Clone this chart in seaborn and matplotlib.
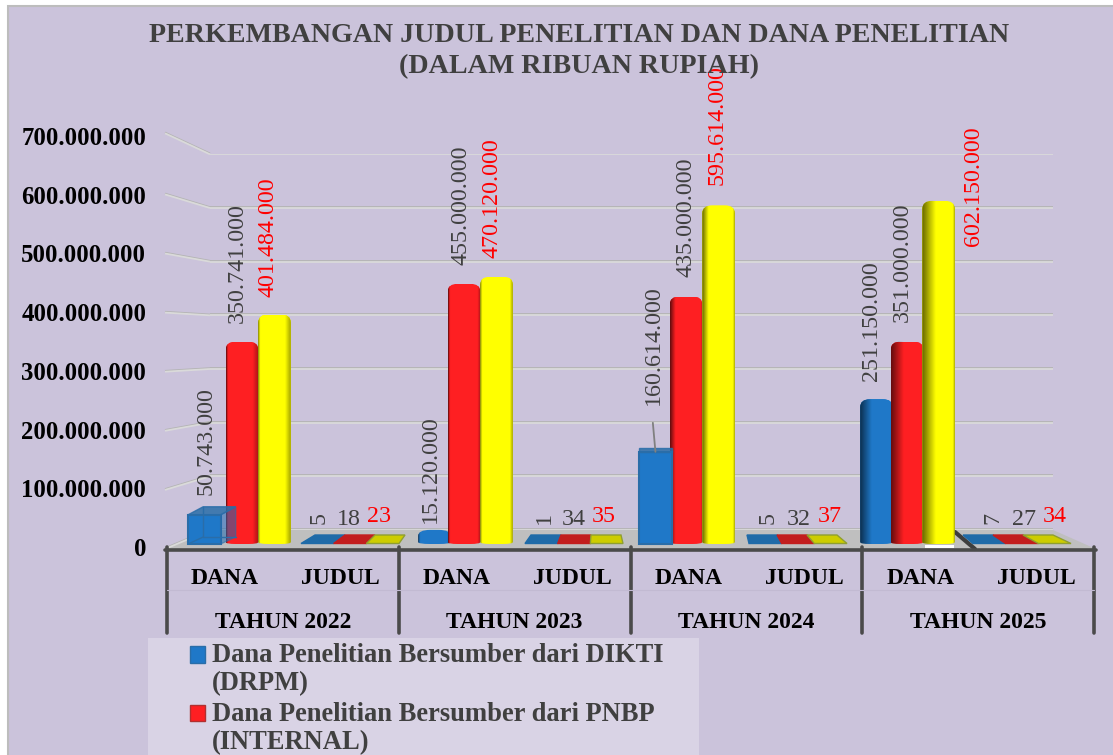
import numpy as np
import pandas as pd
import matplotlib
matplotlib.use("Agg")
import matplotlib.pyplot as plt
import matplotlib.patheffects as pe
from matplotlib.patches import Rectangle, Polygon, Patch
from matplotlib.legend_handler import HandlerPatch
from matplotlib.path import Path
import seaborn as sns

# ---- data ----
years = ["TAHUN 2022", "TAHUN 2023", "TAHUN 2024", "TAHUN 2025"]
kinds = ["DANA", "JUDUL"]
series = ["Dana Penelitian Bersumber dari DIKTI\n(DRPM)",
          "Dana Penelitian Bersumber dari PNBP\n(INTERNAL)",
          "Dana Penelitian Lainnya"]
drpm = [50743000, 5, 15120000, 1, 160614000, 5, 251150000, 7]
pnbp = [350741000, 18, 455000000, 34, 435000000, 32, 351000000, 27]
lain = [401484000, 23, 470120000, 35, 595614000, 37, 602150000, 34]
y_ticks = [0, 100000000, 200000000, 300000000, 400000000, 500000000, 600000000, 700000000]
title = "PERKEMBANGAN JUDUL PENELITIAN DAN DANA PENELITIAN\n(DALAM RIBUAN RUPIAH)"

colors = ["#1F78C8", "#FE1F22", "#FFFF00"]
GREY = "#404040"
SERIF = "Liberation Serif"

W, H = 1113, 755
sns.set_style("white")
plt.rcParams["font.family"] = [SERIF, "DejaVu Serif"]
fig = plt.figure(figsize=(W / 100, H / 100), dpi=100, facecolor="white")


def rect(l, t, r, b):
    return [l / W, 1 - b / H, (r - l) / W, (b - t) / H]


wall_line = [pe.SimpleLineShadow(offset=(0, .6), shadow_color="#B4B4B4", alpha=1), pe.Normal()]

# pixel-space backdrop (plot area, floor, perspective lines, table rules)
ov = fig.add_axes([0, 0, 1, 1], zorder=0)
ov.set_xlim(0, W); ov.set_ylim(H, 0); ov.axis("off")
ov.add_patch(Rectangle((7.5, 6), W, H, fc="#CBC3DB", ec="#BDBDBD", lw=1.5))
ov.add_patch(Polygon([(166, 549), (210, 530), (1053, 530), (1096, 549)], fc="#BFBFBF", ec="none"))
for k in range(8):
    ov.plot([165, 210], [549 - 59.1 * k - (2 if k == 7 else 0), 530 - 53.67 * k],
            color="#DADADA", lw=1.3, solid_capstyle="butt", path_effects=wall_line)
ov.add_patch(Rectangle((148, 638), 551, 120, fc="#D9D3E5", ec="none"))
ov.plot([955, 975], [532, 549], color="#303030", lw=3, alpha=.9)
ov.add_patch(Rectangle((925, 545), 29, 2.5, fc="white", ec="none"))

# main axes: back wall of the 3D box
ax = fig.add_axes(rect(210, 154.3, 1053, 530), zorder=2)
ax.patch.set_alpha(0)
df = pd.DataFrame({
    "kategori": [f"{y} {k}" for y in years for k in kinds] * 3,
    "nilai": drpm + pnbp + lain,
    "sumber": np.repeat(series, 8),
})
sns.barplot(data=df, x="kategori", y="nilai", hue="sumber", hue_order=series,
            palette=colors, width=0.88, gap=0, saturation=1, legend=False,
            err_kws={"linewidth": 0}, ax=ax)
PX_X = 111.0
ax.set_xlim((210 - 242) / PX_X, (1053 - 242) / PX_X)
ax.set_ylim(0, 700000000)
PX_Y = 375.7 / 700000000
ax.set_yticks(y_ticks)
ax.set_xticks([])
ax.tick_params(left=False, labelleft=False, bottom=False)
ax.set_xlabel(""); ax.set_ylabel("")
ax.grid(axis="y", color="#DADADA", lw=1.3)
for line in ax.yaxis.get_gridlines():
    line.set_path_effects(wall_line)
ax.set_axisbelow(True)
for s in ax.spines.values():
    s.set_visible(False)

BASE = -14 / PX_Y     # front edge of the bars below the back-wall floor
FLAT_ZONE = 1000      # values this small are drawn as flat plates on the floor
# perspective nudges in pixels: (series, category) -> (dx, rise of the top)
nudge = {(0, 0): (-5, -4), (0, 2): (3, -8), (0, 4): (2, -4), (0, 6): (1, -4),
         (1, 2): (0, 2), (1, 6): (-1, 0),
         (2, 2): (0, 1), (2, 4): (0, 5), (2, 6): (-2, 6)}


def gradient(x_px):
    """Black-alpha strip that gives a cylinder its shading."""
    t = (x_px - 575) / 335
    n = 48
    u = np.linspace(0, 1, n)
    left = max(t, 0) * 0.34 + 0.05
    right = max(-t, 0) * 0.14 + 0.05
    a = 0.6 * np.clip(1 - u / left, 0, 1) + 0.35 * np.clip(1 - (1 - u) / right, 0, 1)
    rgba = np.zeros((1, n, 4))
    rgba[0, :, 3] = a
    return rgba


def rounded(x, w, top, rx_px, ry_px):
    rx, ry = rx_px / PX_X, ry_px / PX_Y
    low = 2 / PX_Y
    verts = [(x, BASE + low), (x, top - ry), (x, top), (x + rx, top), (x + w - rx, top),
             (x + w, top), (x + w, top - ry), (x + w, BASE + low), (x + w, BASE),
             (x + w - rx, BASE), (x + rx, BASE), (x, BASE), (x, BASE + low)]
    codes = [Path.MOVETO, Path.LINETO, Path.CURVE3, Path.CURVE3, Path.LINETO, Path.CURVE3,
             Path.CURVE3, Path.LINETO, Path.CURVE3, Path.CURVE3, Path.LINETO, Path.CURVE3, Path.CURVE3]
    return Path(verts, codes)


values = [drpm, pnbp, lain]
centers = {}
for si, cont in enumerate(ax.containers):
    for ci, p in enumerate(cont.patches):
        v = values[si][ci]
        x, w = p.get_x(), p.get_width()
        centers[(si, ci)] = x + w / 2
        p.set_edgecolor("none")
        if v < FLAT_ZONE:
            # plate lying on the floor: perspective follows its position along the axis
            f = (ci - 1) / 6
            top_c = 360 + 648 * f
            bot_c = 350 + 672 * f
            for_px = lambda c, hw, i: c - hw + i * 2 * hw / 3
            tl, tr = for_px(top_c, 45, si), for_px(top_c, 45, si + 1)
            bl, br = for_px(bot_c, 49, si), for_px(bot_c, 49, si + 1)
            ov.add_patch(Polygon([(bl, 543.5), (tl, 535), (tr, 535), (br, 543.5)],
                                 fc=["#1F6BA8", "#C21E1E", "#CDCD00"][si],
                                 ec=["#1F6BA8", "#C21E1E", "#8F9F30"][si], lw=1, zorder=3))
            continue
        dx_px, rise = nudge.get((si, ci), (0, 0))
        x = x + dx_px / PX_X
        p.set_x(x)
        xpx = 242 + (x + w / 2) * PX_X
        if si == 0 and ci in (0, 4):
            # blue box
            top = v + rise / PX_Y
            front_top = top - (8 if ci == 0 else 4) / PX_Y
            p.set_visible(False)
            depth = 15 if ci == 0 else 0
            dx, dy = depth / PX_X, 7 / PX_Y if ci == 0 else 4 / PX_Y
            z = 4 if ci == 0 else 3
            ax.add_patch(Rectangle((x, BASE), w, front_top - BASE, fc="#1F78C8", ec="#2A6DA8",
                                   lw=1.5, clip_on=False, zorder=z))
            ax.add_patch(Polygon([(x, front_top), (x + dx, top), (x + w + dx, top), (x + w, front_top)],
                                 fc="#2A6DA8", ec="#2A6DA8", alpha=.85, clip_on=False, zorder=z))
            if ci == 0:
                ax.add_patch(Polygon([(x + w, BASE), (x + w, front_top), (x + w + dx, top), (x + w + dx, BASE + dy)],
                                     fc="#1F68B0", ec="#2A6DA8", alpha=.55, clip_on=False, zorder=z))
                ax.plot([x + dx, x + dx], [BASE + dy, top], color="#2A6DA8", lw=1, clip_on=False, zorder=z)
                ax.plot([x, x + dx], [BASE, BASE + dy], color="#2A6DA8", lw=1, clip_on=False, zorder=z)
                ax.plot([x + dx, x + w + dx], [BASE + dy] * 2, color="#2A6DA8", lw=1, clip_on=False, zorder=z)
            else:
                ax.plot([x + w * .42, x + w * .5], [front_top + 29 / PX_Y, front_top], color="#808080",
                        lw=1.3, clip_on=False, zorder=z + 1)
            continue
        top = v + rise / PX_Y
        rx, ry = (10, 8) if v > 20000000 else (12, 6)
        clip = rounded(x, w, top, rx, ry)
        z = 2 + si * 0.5
        p.set_zorder(z)
        p.set_clip_box(fig.bbox)
        p.set_clip_path(clip, ax.transData)
        foot = Rectangle((x, BASE), w, top - BASE, fc=colors[si], ec="none", zorder=z)
        ax.add_patch(foot)
        foot.set_clip_box(fig.bbox)
        foot.set_clip_path(clip, ax.transData)
        im = ax.imshow(gradient(xpx), extent=(x, x + w, BASE, top), aspect="auto",
                       interpolation="bilinear", zorder=z + .01)
        im.set_clip_box(fig.bbox)
        im.set_clip_path(clip, ax.transData)

ax.set_xlim((210 - 242) / PX_X, (1053 - 242) / PX_X)
ax.set_ylim(0, 700000000)

# data labels
fmt = lambda v: f"{v:,}".replace(",", ".")
offsets = {
    (0, 0): (-3.5, 8), (1, 0): (-5, 19), (2, 0): (-7, 18),
    (0, 2): (-1.5, -1), (1, 2): (-3, 21), (2, 2): (-4.5, 20),
    (0, 4): (0, 39), (1, 4): (0, 20), (2, 4): (-1.5, 25),
    (0, 6): (-3.5, 14), (1, 6): (-6, 20), (2, 6): (33, -39),
    (0, 1): (-1.5, 12), (1, 1): (-4, 10), (2, 1): (-6.5, 13),
    (0, 3): (1.5, 12), (1, 3): (-1, 10), (2, 3): (-3.5, 13),
    (0, 5): (3.5, 12), (1, 5): (2, 10), (2, 5): (.5, 13),
    (0, 7): (6.5, 12), (1, 7): (5, 10), (2, 7): (3.5, 13),
}
lab_colors = [GREY, GREY, "#FF0000"]
for si, cont in enumerate(ax.containers):
    for ci, p in enumerate(cont.patches):
        v = values[si][ci]
        big = v >= FLAT_ZONE
        rot = 90 if big or v < 10 else 0
        ax.annotate(fmt(v), xy=(centers[(si, ci)], v), xytext=offsets[(si, ci)],
                    textcoords="offset pixels", rotation=rot, ha="center",
                    va="bottom" if big else "center", color=lab_colors[si], fontsize=17.3,
                    annotation_clip=False, zorder=8)

# front scale: value axis and two-level category axis
ax2 = fig.add_axes(rect(167, 136, 1094, 547), zorder=3)
ax2.patch.set_alpha(0)
ax2.set_xlim(-.5, 7.5)
ax2.set_ylim(0, 700000000)
for s in ax2.spines.values():
    s.set_visible(False)
ax2.set_yticks(y_ticks)
ax2.set_yticklabels([fmt(v) for v in y_ticks], fontsize=17.8, fontweight="bold", color="black")
ax2.set_xticks(range(8))
ax2.set_xticklabels(kinds * 4, fontsize=17, fontweight="bold", color="black")
ax2.tick_params(axis="y", length=0, pad=15)
ax2.tick_params(axis="x", length=0, pad=15)
tr = ax2.get_xaxis_transform()
for i, y in enumerate(years):
    ax2.text(2 * i + .5, -75 / 411, y, transform=tr, ha="center", va="center",
             fontsize=17, fontweight="bold", color="black")
    ax2.plot([2 * i - .5] * 2, [0, -86 / 411], transform=tr, color="#4A4A4A", lw=2.6, clip_on=False)
ax2.plot([7.5] * 2, [0, -86 / 411], transform=tr, color="#4A4A4A", lw=2.6, clip_on=False)
ax2.plot([-.52, 7.52], [-3 / 411] * 2, transform=tr, color="#4A4A4A", lw=2.6, clip_on=False)
ax2.plot([-.5, 7.5], [-43 / 411] * 2, transform=tr, color="#C2BAD2", lw=.8, clip_on=False)

fig.text(579 / W, 1 - 51 / H, title, ha="center", va="center", fontsize=20.2, fontweight="bold",
         color=GREY, linespacing=1.33)


def first_line_patch(legend, orig_handle, xdescent, ydescent, width, height, fontsize):
    return Rectangle((-xdescent, -ydescent + 11), width, height)


handles = [Patch(fc=colors[0], ec="#2A6DA8"), Patch(fc=colors[1], ec="#B03030")]
leg = fig.legend(handles, series[:2], loc="upper left", bbox_to_anchor=(190 / W, 1 - 643 / H),
                 frameon=False, prop={"family": SERIF, "weight": "bold", "size": 19.1}, labelcolor=GREY,
                 handlelength=.565, handleheight=.565, handletextpad=.26, labelspacing=.2,
                 borderpad=0, borderaxespad=0,
                 handler_map={Patch: HandlerPatch(patch_func=first_line_patch)})
for t in leg.get_texts():
    t.set_linespacing(1.17)

fig.savefig("out.png", dpi=100, facecolor="white")
